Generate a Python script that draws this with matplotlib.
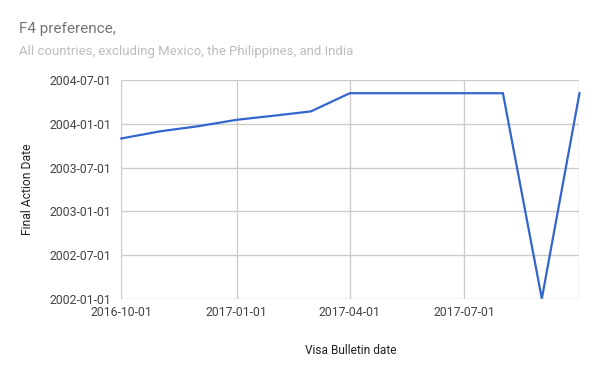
import matplotlib
matplotlib.use('Agg')
import matplotlib.pyplot as plt
import matplotlib.dates as mdates
from datetime import date

plt.rcParams['font.family'] = ['Roboto', 'DejaVu Sans']

# 数据：签证公告月份 -> 最终行动日期
bulletin_dates = [
    '2016-10-01', '2016-11-01', '2016-12-01', '2017-01-01', '2017-02-01',
    '2017-03-01', '2017-04-01', '2017-05-01', '2017-06-01', '2017-07-01',
    '2017-08-01', '2017-09-01', '2017-10-01',
]
final_action_dates = [
    '2003-11-01', '2003-12-01', '2003-12-22', '2004-01-18', '2004-02-05',
    '2004-02-22', '2004-05-08', '2004-05-08', '2004-05-08', '2004-05-08',
    '2004-05-08', '2002-01-01', '2004-05-08',
]
x_ticks = ['2016-10-01', '2017-01-01', '2017-04-01', '2017-07-01', '2017-10-01']
x_tick_labels = ['2016-10-01', '2017-01-01', '2017-04-01', '2017-07-01', '']
y_ticks = ['2002-01-01', '2002-07-01', '2003-01-01', '2003-07-01', '2004-01-01', '2004-07-01']


def to_num(s_list):
    return [mdates.date2num(date.fromisoformat(s)) for s in s_list]


x = to_num(bulletin_dates)
y = to_num(final_action_dates)
xt = to_num(x_ticks)
yt = to_num(y_ticks)

fig = plt.figure(figsize=(6.0, 3.71), dpi=100)
ax = fig.add_axes([0.2022, 0.1949, 0.7636, 0.5887])

ax.plot(x, y, color='#3366cc', linewidth=1.6, solid_joinstyle='miter', clip_on=False, zorder=3)

ax.set_xlim(xt[0], xt[-1])
ax.set_ylim(yt[0], yt[-1])
ax.set_xticks(xt)
ax.set_xticklabels(x_tick_labels)
ax.set_yticks(yt)
ax.set_yticklabels(y_ticks)

ax.grid(True, color='#cccccc', linewidth=1.0)
for s in ax.spines.values():
    s.set_visible(False)
ax.tick_params(length=0, labelsize=8.8, colors='#444444', pad=5)
ax.tick_params(axis='y', pad=7)

ax.set_xlabel('Visa Bulletin date', fontsize=8.6, color='#222222', labelpad=18)
ax.set_ylabel('Final Action Date', fontsize=8.7, color='#222222', labelpad=11)

fig.text(19 / 600, 1 - 29 / 371, 'F4 preference,', fontsize=11, color='#757575', va='center')
fig.text(19 / 600, 1 - 51 / 371, 'All countries, excluding Mexico, the Philippines, and India',
         fontsize=9.5, color='#bdbdbd', va='center')

plt.savefig('out.png', dpi=100)
plt.close()
